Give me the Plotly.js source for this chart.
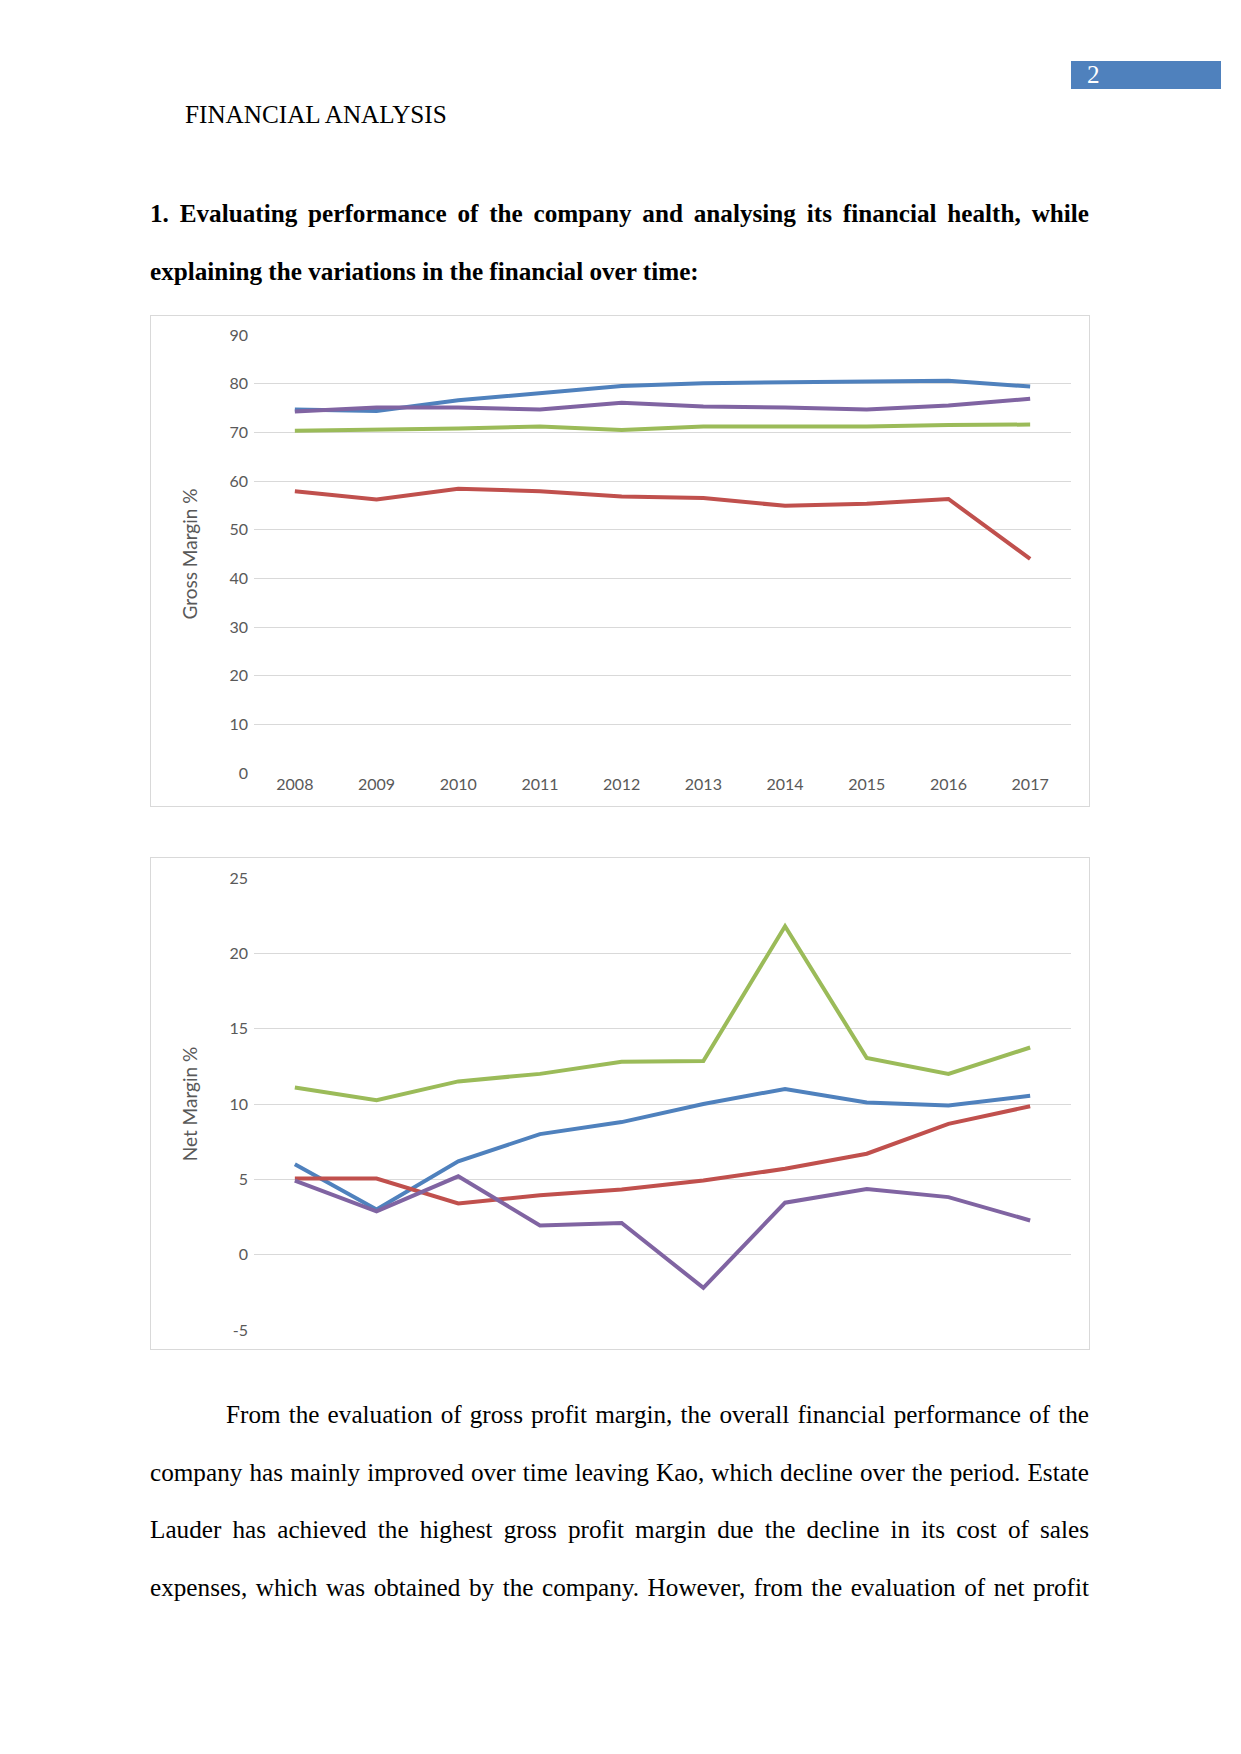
<!DOCTYPE html>
<html><head><meta charset="utf-8">
<script src="https://cdn.plot.ly/plotly-3.0.1.min.js"></script>
<style>
html,body{margin:0;padding:0;background:#fff;}
body{width:1241px;height:1754px;position:relative;overflow:hidden;font-family:"Liberation Serif","Times New Roman",serif;color:#000;}
.abs{position:absolute;}
.line{position:absolute;left:150px;width:939px;font-size:25.2px;line-height:57.5px;}
.just{text-align:justify;text-align-last:justify;}
.bold{font-weight:bold;}
.box{position:absolute;border:1px solid #D9D9D9;background:#fff;}
</style>
</head>
<body>
<div class="abs" style="left:1071px;top:61px;width:150px;height:28px;background:#4F81BD;"></div>
<div class="abs" style="left:1087px;top:62px;font-size:25.2px;line-height:25px;color:#fff;">2</div>
<div class="abs" style="left:185px;top:102px;font-size:25.2px;line-height:25px;">FINANCIAL ANALYSIS</div>

<div class="line bold just" style="top:185px;">1. Evaluating performance of the company and analysing its financial health, while</div>
<div class="line bold" style="top:242.5px;">explaining the variations in the financial over time:</div>

<div class="box" style="left:150px;top:315px;width:938px;height:490px;"><div id="c1"></div></div>
<div class="box" style="left:150px;top:857px;width:938px;height:491px;"><div id="c2"></div></div>

<div class="line just" style="top:1386px;left:226px;width:863px;">From the evaluation of gross profit margin, the overall financial performance of the</div>
<div class="line just" style="top:1443.5px;">company has mainly improved over time leaving Kao, which decline over the period. Estate</div>
<div class="line just" style="top:1501px;">Lauder has achieved the highest gross profit margin due the decline in its cost of sales</div>
<div class="line just" style="top:1558.5px;">expenses, which was obtained by the company. However, from the evaluation of net profit</div>

<script>
// ---- data ----
const years = ['2008','2009','2010','2011','2012','2013','2014','2015','2016','2017'];
const seriesNames = ['Estee Lauder','Kao','Company C','Company D'];
const grossBlue   = [74.7, 74.4, 76.6, 78.1, 79.5, 80.1, 80.3, 80.5, 80.6, 79.4];
const grossRed    = [57.9, 56.2, 58.4, 57.9, 56.8, 56.5, 54.9, 55.3, 56.3, 44.0];
const grossGreen  = [70.3, 70.5, 70.8, 71.2, 70.5, 71.2, 71.1, 71.2, 71.5, 71.6];
const grossPurple = [74.3, 75.1, 75.1, 74.7, 76.1, 75.3, 75.1, 74.7, 75.5, 76.9];
const netBlue   = [6.0, 3.0, 6.2, 8.0, 8.8, 10.0, 11.0, 10.1, 9.9, 10.55];
const netRed    = [5.05, 5.05, 3.4, 3.95, 4.33, 4.92, 5.7, 6.7, 8.68, 9.85];
const netGreen  = [11.1, 10.25, 11.5, 12.0, 12.8, 12.85, 21.8, 13.05, 12.0, 13.75];
const netPurple = [4.92, 2.87, 5.2, 1.94, 2.1, -2.2, 3.45, 4.35, 3.82, 2.27];
const grossTicks = [0,10,20,30,40,50,60,70,80,90];
const netTicks = [-5,0,5,10,15,20,25];

const colors = ['#4F81BD','#C0504D','#9BBB59','#8064A2'];
const tickFont = {family:'Lato, "Open Sans", sans-serif', size:16, color:'#595959'};
const titleFont = {family:'Lato, "Open Sans", sans-serif', size:19, color:'#595959'};

function traces(arrs){
  return arrs.map((a,i)=>({
    type:'scatter', mode:'lines', x:years, y:a, name:seriesNames[i],
    line:{color:colors[i], width:4}, hoverinfo:'skip'
  }));
}

const common = {
  width:938, paper_bgcolor:'#fff', plot_bgcolor:'#fff', showlegend:false,
  font:tickFont
};

// Chart 1
Plotly.newPlot('c1', traces([grossBlue,grossRed,grossGreen,grossPurple]), Object.assign({}, common, {
  height:490,
  margin:{l:103, r:18, t:19, b:33},
  xaxis:{type:'category', range:[-0.5, 9.5], showgrid:false, zeroline:false, showline:false,
         ticks:'', tickfont:tickFont, fixedrange:true},
  yaxis:{range:[0,90], tickvals:grossTicks, ticktext:grossTicks.map(String), showgrid:true,
         gridcolor:'#D9D9D9', gridwidth:1, zeroline:false, showline:false, ticks:'',
         tickfont:tickFont, ticklabelstandoff:5, fixedrange:true,
         title:{text:'Gross Margin %', font:titleFont, standoff:26}}
}), {displayModeBar:false, staticPlot:true});

// Chart 2
Plotly.newPlot('c2', traces([netBlue,netRed,netGreen,netPurple]), Object.assign({}, common, {
  height:491,
  margin:{l:103, r:18, t:20, b:19},
  xaxis:{type:'category', range:[-0.5, 9.5], showgrid:false, zeroline:false, showline:false,
         showticklabels:false, ticks:'', fixedrange:true},
  yaxis:{range:[-5,25], tickvals:netTicks, ticktext:netTicks.map(String), showgrid:true,
         gridcolor:'#D9D9D9', gridwidth:1, zeroline:true, zerolinecolor:'#D9D9D9', zerolinewidth:1.5,
         showline:false, ticks:'', tickfont:tickFont, ticklabelstandoff:5, fixedrange:true,
         title:{text:'Net Margin %', font:titleFont, standoff:26}},
  annotations: years.map(y=>({x:y, y:0, xref:'x', yref:'y', text:y, showarrow:false,
         yanchor:'middle', yshift:-13, font:tickFont}))
}), {displayModeBar:false, staticPlot:true});
</script>
</body></html>
